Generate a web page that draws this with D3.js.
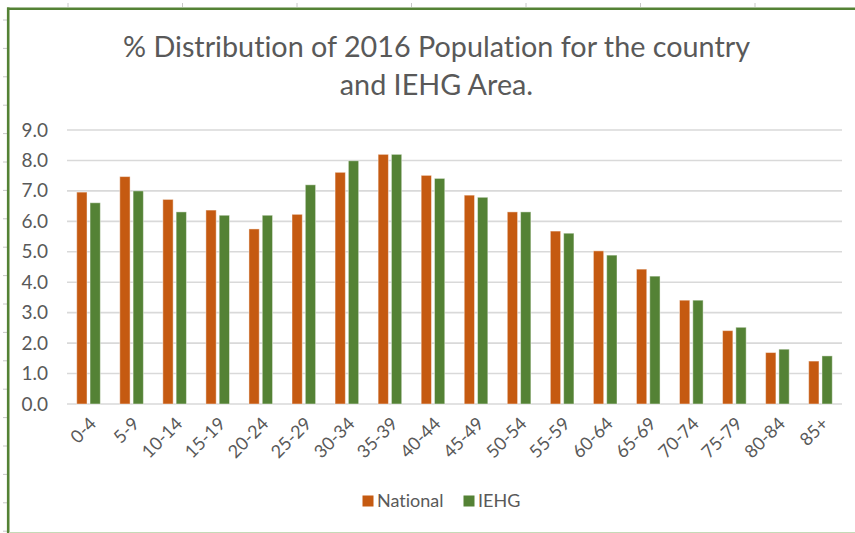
<!DOCTYPE html>
<html lang="en">
<head>
  <meta charset="UTF-8">
  <title>% Distribution of 2016 Population</title>
  <script src="https://d3js.org/d3.v7.min.js"></script>
  <style>
    body {
      margin: 0;
      background: #fff;
    }
    svg {
      display: block;
      font-family: Lato, "Open Sans", sans-serif;
      font-variant-ligatures: none;
    }
  </style>
</head>
<body>

<svg id="chart" width="855" height="533"></svg>

<script>
// Data
const ageGroups = ["0-4", "5-9", "10-14", "15-19", "20-24", "25-29", "30-34", "35-39", "40-44",
  "45-49", "50-54", "55-59", "60-64", "65-69", "70-74", "75-79", "80-84", "85+"];
const nationalValues = [6.96, 7.47, 6.72, 6.37, 5.75, 6.23, 7.61, 8.2, 7.51,
  6.86, 6.31, 5.68, 5.03, 4.43, 3.41, 2.41, 1.69, 1.41];
const iehgValues = [6.61, 7.0, 6.31, 6.2, 6.2, 7.2, 7.99, 8.2, 7.41,
  6.79, 6.31, 5.61, 4.89, 4.2, 3.41, 2.52, 1.8, 1.58];
const seriesNames = ["National", "IEHG"];
const yTicks = [0, 1, 2, 3, 4, 5, 6, 7, 8, 9];
const titleLines = ["% Distribution of 2016 Population for the country", "and IEHG Area."];

const colors = {National: "#C55A11", IEHG: "#548235"};
const textColor = "#595959";

const svg = d3.select("#chart");

// sheet frame (Excel-style border behind the chart)
[68, 182.5, 297, 411.5, 526, 640.5, 755].forEach(x => {
  svg.append("line").attr("x1", x).attr("x2", x).attr("y1", 3).attr("y2", 7)
    .attr("stroke", "#c8c8c8").attr("stroke-width", 1);
});
d3.range(20, 533, 28.4).forEach(y => {
  svg.append("line").attr("x1", 3).attr("x2", 7).attr("y1", y).attr("y2", y)
    .attr("stroke", "#c8c8c8").attr("stroke-width", 1);
});
svg.append("line").attr("x1", 7).attr("x2", 855).attr("y1", 8.7).attr("y2", 8.7)
  .attr("stroke", "#548235").attr("stroke-width", 2.6);
svg.append("line").attr("x1", 8.2).attr("x2", 8.2).attr("y1", 7.5).attr("y2", 533)
  .attr("stroke", "#548235").attr("stroke-width", 2.6);
svg.append("line").attr("x1", 9).attr("x2", 855).attr("y1", 532.5).attr("y2", 532.5)
  .attr("stroke", "#c5dab8").attr("stroke-width", 1);

// Title, fitted to the reference width
const title = svg.append("g").attr("fill", textColor);
const t1 = title.append("text").attr("x", 436.5).attr("y", 57)
  .attr("text-anchor", "middle").attr("font-size", 24).text(titleLines[0]);
const fit = 24 * 627 / t1.node().getComputedTextLength();
t1.attr("font-size", fit);
title.append("text").attr("x", 436.5).attr("y", 95)
  .attr("text-anchor", "middle").attr("font-size", fit).text(titleLines[1]);

// Scales
const plot = {left: 67, right: 842, top: 130, bottom: 404};

const x0 = d3.scaleBand()
  .domain(ageGroups)
  .range([plot.left, plot.right])
  .paddingInner(0.452)
  .paddingOuter(0.226);

const x1 = d3.scaleBand()
  .domain(seriesNames)
  .range([0, x0.bandwidth()])
  .paddingInner(0.226);

const y = d3.scaleLinear()
  .domain([0, 9])
  .range([plot.bottom, plot.top]);

// Gridlines
svg.append("g")
  .selectAll("line")
  .data(yTicks)
  .join("line")
  .attr("x1", plot.left)
  .attr("x2", plot.right)
  .attr("y1", d => y(d))
  .attr("y2", d => y(d))
  .attr("stroke", "#d9d9d9")
  .attr("stroke-width", 1.6);

// Y axis labels
const yAxis = svg.append("g")
  .attr("transform", `translate(${plot.left - 19},0)`)
  .call(d3.axisLeft(y).tickValues(yTicks).tickFormat(d3.format(".1f")).tickSize(0).tickPadding(0))
  .attr("font-family", null)
  .attr("font-size", null);
yAxis.select(".domain").remove();
yAxis.selectAll("text")
  .attr("fill", textColor)
  .attr("font-size", 19);

// Bars
const rows = ageGroups.map((g, i) => ({group: g, values: [
  {name: "National", value: nationalValues[i]},
  {name: "IEHG", value: iehgValues[i]}
]}));

svg.append("g")
  .selectAll("g")
  .data(rows)
  .join("g")
  .attr("transform", d => `translate(${x0(d.group)},0)`)
  .selectAll("rect")
  .data(d => d.values)
  .join("rect")
  .attr("x", d => x1(d.name))
  .attr("width", x1.bandwidth())
  .attr("y", d => y(d.value))
  .attr("height", d => y(0) - y(d.value))
  .attr("fill", d => colors[d.name])
  .attr("stroke", "rgba(255,255,255,0.45)")
  .attr("stroke-width", 1);

// X axis labels (rotated)
const xAxis = svg.append("g")
  .attr("transform", `translate(0,${plot.bottom + 12})`)
  .call(d3.axisBottom(x0).tickSize(0).tickPadding(0))
  .attr("font-family", null)
  .attr("font-size", null);
xAxis.select(".domain").remove();
xAxis.selectAll("text")
  .attr("fill", textColor)
  .attr("font-size", 18)
  .attr("text-anchor", "end")
  .attr("dy", "0.7em")
  .attr("transform", "rotate(-45)");

// Legend
const legendItems = [
  {name: seriesNames[0], x: 362.5},
  {name: seriesNames[1], x: 463.5}
];
const legend = svg.append("g")
  .selectAll("g")
  .data(legendItems)
  .join("g")
  .attr("transform", d => `translate(${d.x},495.5)`);
legend.append("rect")
  .attr("width", 11)
  .attr("height", 11)
  .attr("fill", d => colors[d.name]);
legend.append("text")
  .attr("x", 14.5)
  .attr("y", 11)
  .attr("fill", textColor)
  .attr("font-size", 18)
  .text(d => d.name);
</script>

</body>
</html>
